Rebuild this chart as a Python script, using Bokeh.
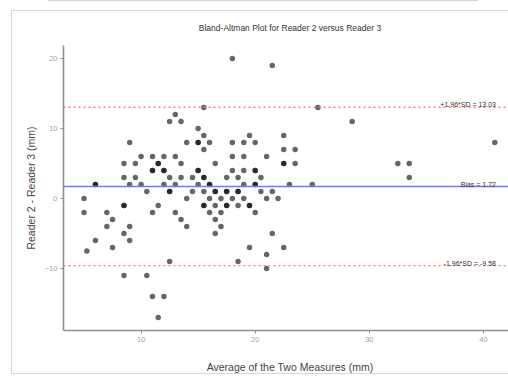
from bokeh.plotting import figure
from bokeh.models import Span, Label, Div, LinearAxis, FixedTicker
from bokeh.layouts import column
from bokeh.embed import file_html
from bokeh.resources import INLINE

# ---- data ----
avg_mm = [
    18,
    21.5,
    15.5, 25.5,
    13,
    12.5, 13.5, 28.5,
    15,
    15.5, 19.5, 22.5,
    9, 14, 15, 15, 16, 18, 19, 20, 41,
    15.5, 22.5, 23.5,
    10, 11, 12, 13, 18, 19, 21,
    8.5, 9.5, 11.5, 11.5, 13.5, 16.5, 22.5, 22.5, 23.5, 32.5, 33.5,
    11, 11, 12, 12, 15, 15, 18, 19, 20, 20,
    8.5, 9.5, 12.5, 13.5, 14.5, 15.5, 15.5, 17.5, 18.5, 20.5, 33.5,
    6, 6, 9, 10, 12, 13, 15, 16, 16, 19, 20, 20, 23, 25,
    10.5, 12.5, 12.5, 14.5, 15.5, 16.5, 16.5, 17.5, 17.5, 18.5, 18.5, 20.5, 21.5,
    5, 14, 16, 17, 18, 19, 21, 22,
    8.5, 8.5, 11.5, 15.5, 15.5, 16.5, 17.5, 17.5, 18.5, 19.5, 19.5,
    5, 7, 11, 13, 16, 17, 20,
    7.5, 13.5, 16.5,
    7, 9, 14, 17,
    8.5, 16.5, 21.5,
    6, 9,
    7.5, 19.5, 22.5,
    5.25,
    21,
    12.5, 18.5,
    21,
    8.5, 10.5,
    11, 12,
    11.5,
]
diff_mm = [
    20,
    19,
    13, 13,
    12,
    11, 11, 11,
    10,
    9, 9, 9,
    8, 8, 8, 8, 8, 8, 8, 8, 8,
    7, 7, 7,
    6, 6, 6, 6, 6, 6, 6,
    5, 5, 5, 5, 5, 5, 5, 5, 5, 5, 5,
    4, 4, 4, 4, 4, 4, 4, 4, 4, 4,
    3, 3, 3, 3, 3, 3, 3, 3, 3, 3, 3,
    2, 2, 2, 2, 2, 2, 2, 2, 2, 2, 2, 2, 2, 2,
    1, 1, 1, 1, 1, 1, 1, 1, 1, 1, 1, 1, 1,
    0, 0, 0, 0, 0, 0, 0, 0,
    -1, -1, -1, -1, -1, -1, -1, -1, -1, -1, -1,
    -2, -2, -2, -2, -2, -2, -2,
    -3, -3, -3,
    -4, -4, -4, -4,
    -5, -5, -5,
    -6, -6,
    -7, -7, -7,
    -7.5,
    -8,
    -9, -9,
    -10,
    -11, -11,
    -14, -14,
    -17,
]
bias = 1.72
upper_loa = 13.03
lower_loa = -9.58
x_ticks = [10, 20, 30, 40]
y_ticks = [-10, 0, 10, 20]
title_text = "Bland-Altman Plot for Reader 2 versus Reader 3"
x_label = "Average of the Two Measures (mm)"
y_label = "Reader 2 - Reader 3 (mm)"
line_labels = [f"+1.96*SD = {upper_loa:.2f}", f"Bias = {bias:.2f}", f"-1.96*SD = {lower_loa:.2f}"]
line_values = [upper_loa, bias, lower_loa]

FONT = "Liberation Sans"
X_LO, X_HI = 3.2, 42.9
Y_LO, Y_HI = -18.85, 21.85

p = figure(
    width=504, height=364,
    x_range=(X_LO, X_HI), y_range=(Y_LO, Y_HI),
    output_backend="svg", toolbar_location=None,
    min_border_left=51, min_border_right=0, min_border_top=34, min_border_bottom=32,
    margin=(9, 0, 0, 11),
    styles={"border-left": "1px solid #d6d6d6", "border-top": "1px solid #d6d6d6",
            "border-bottom": "1px solid #d6d6d6"},
)
p.outline_line_color = None
p.grid.visible = False
p.background_fill_color = "white"
p.border_fill_color = "white"
p.title.visible = False

# style the main axes first (captured before the title axis exists)
xa = p.xaxis[0]
ya = p.yaxis[0]
for ax in (xa, ya):
    ax.axis_line_color = "#8f8f8f"
    ax.axis_line_width = 1.6
    ax.major_tick_line_color = "#8f8f8f"
    ax.major_tick_out = 3
    ax.major_tick_in = 0
    ax.minor_tick_line_color = None
    ax.major_label_text_font = FONT
    ax.major_label_text_font_size = "7.5px"
    ax.major_label_text_color = "#a3a3a3"
    ax.major_label_standoff = 3
    ax.axis_label_text_font = FONT
    ax.axis_label_text_font_size = "10.5px"
    ax.axis_label_text_font_style = "normal"
    ax.axis_label_text_color = "#444444"

xa.ticker = FixedTicker(ticks=x_ticks)
ya.ticker = FixedTicker(ticks=y_ticks)
xa.axis_label = x_label
ya.axis_label = y_label
xa.axis_label_standoff = 16
ya.axis_label_standoff = 5

# title: label of a bare axis above the panel, centred over the panel
title_axis = LinearAxis(ticker=FixedTicker(ticks=[]), axis_line_color=None,
                        major_tick_line_color=None, minor_tick_line_color=None,
                        major_label_text_font_size="0px",
                        axis_label=title_text, axis_label_standoff=13,
                        axis_label_text_font=FONT, axis_label_text_font_size="8.5px",
                        axis_label_text_font_style="normal",
                        axis_label_text_color="#333333")
p.add_layout(title_axis, "above")

p.scatter(avg_mm, diff_mm, size=5.5, fill_color="black", fill_alpha=0.6, line_color=None)

p.add_layout(Span(location=upper_loa, dimension="width", line_color="#ff7070",
                  line_width=1.4, line_dash="2 3", line_alpha=0.9))
p.add_layout(Span(location=lower_loa, dimension="width", line_color="#ff7070",
                  line_width=1.4, line_dash="2 3", line_alpha=0.9))
p.add_layout(Span(location=bias, dimension="width", line_color="#7575ff", line_width=1.6))

for txt, val in zip(line_labels, line_values):
    p.add_layout(Label(x=41.1, y=val + 0.35, text=txt, text_align="right",
                       text_baseline="middle", text_font=FONT,
                       text_font_size="7px", text_color="#333333"))

top_rule = Div(text="", width=430, height=0, margin=(0, 0, 0, 48),
               styles={"border-top": "1px solid #d6d6d6"})

layout = column(top_rule, p, spacing=0, width=508, height=383,
                styles={"overflow": "hidden"})
open("out.html", "w").write(file_html(layout, INLINE))
